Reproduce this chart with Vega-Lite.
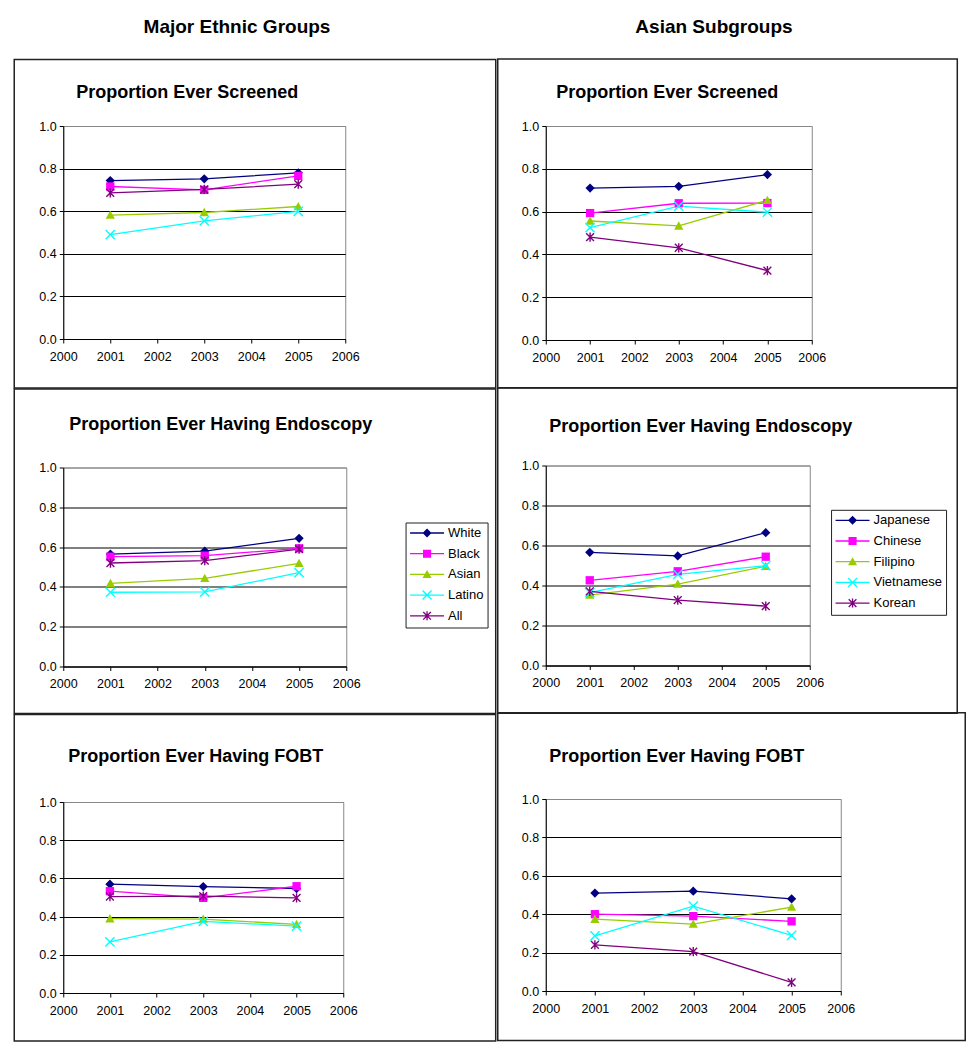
{
  "$schema": "https://vega.github.io/schema/vega-lite/v6.json",
  "padding": {"left": 12.25, "top": 17, "right": 4, "bottom": 4},
  "background": "white",
  "config": {
    "font": "Liberation Sans",
    "view": {"stroke": "#888888", "strokeWidth": 1},
    "axis": {"domainColor": "black", "tickColor": "black", "labelColor": "black", "labelFont": "Liberation Sans", "labelFontSize": 12.5, "gridColor": "black", "gridWidth": 1, "domainWidth": 1, "tickWidth": 1},
    "title": {"font": "Liberation Sans", "color": "black", "fontWeight": "bold"},
    "legend": {"labelFont": "Liberation Sans", "labelColor": "black", "labelFontSize": 13}
  },
  "datasets": {
    "major_screened": [
      {"g": "White", "year": 2001, "v": 0.744}, {"g": "White", "year": 2003, "v": 0.752}, {"g": "White", "year": 2005, "v": 0.780},
      {"g": "Black", "year": 2001, "v": 0.716}, {"g": "Black", "year": 2003, "v": 0.700}, {"g": "Black", "year": 2005, "v": 0.766},
      {"g": "Asian", "year": 2001, "v": 0.582}, {"g": "Asian", "year": 2003, "v": 0.594}, {"g": "Asian", "year": 2005, "v": 0.622},
      {"g": "Latino", "year": 2001, "v": 0.490}, {"g": "Latino", "year": 2003, "v": 0.555}, {"g": "Latino", "year": 2005, "v": 0.599},
      {"g": "All", "year": 2001, "v": 0.686}, {"g": "All", "year": 2003, "v": 0.702}, {"g": "All", "year": 2005, "v": 0.727}
    ],
    "asian_screened": [
      {"g": "Japanese", "year": 2001, "v": 0.710}, {"g": "Japanese", "year": 2003, "v": 0.718}, {"g": "Japanese", "year": 2005, "v": 0.773},
      {"g": "Chinese", "year": 2001, "v": 0.593}, {"g": "Chinese", "year": 2003, "v": 0.639}, {"g": "Chinese", "year": 2005, "v": 0.640},
      {"g": "Filipino", "year": 2001, "v": 0.556}, {"g": "Filipino", "year": 2003, "v": 0.533}, {"g": "Filipino", "year": 2005, "v": 0.653},
      {"g": "Vietnamese", "year": 2001, "v": 0.525}, {"g": "Vietnamese", "year": 2003, "v": 0.626}, {"g": "Vietnamese", "year": 2005, "v": 0.597},
      {"g": "Korean", "year": 2001, "v": 0.481}, {"g": "Korean", "year": 2003, "v": 0.431}, {"g": "Korean", "year": 2005, "v": 0.324}
    ],
    "major_endo": [
      {"g": "White", "year": 2001, "v": 0.565}, {"g": "White", "year": 2003, "v": 0.580}, {"g": "White", "year": 2005, "v": 0.644},
      {"g": "Black", "year": 2001, "v": 0.552}, {"g": "Black", "year": 2003, "v": 0.557}, {"g": "Black", "year": 2005, "v": 0.594},
      {"g": "Asian", "year": 2001, "v": 0.418}, {"g": "Asian", "year": 2003, "v": 0.443}, {"g": "Asian", "year": 2005, "v": 0.518},
      {"g": "Latino", "year": 2001, "v": 0.373}, {"g": "Latino", "year": 2003, "v": 0.375}, {"g": "Latino", "year": 2005, "v": 0.472},
      {"g": "All", "year": 2001, "v": 0.520}, {"g": "All", "year": 2003, "v": 0.532}, {"g": "All", "year": 2005, "v": 0.590}
    ],
    "asian_endo": [
      {"g": "Japanese", "year": 2001, "v": 0.566}, {"g": "Japanese", "year": 2003, "v": 0.548}, {"g": "Japanese", "year": 2005, "v": 0.664},
      {"g": "Chinese", "year": 2001, "v": 0.426}, {"g": "Chinese", "year": 2003, "v": 0.471}, {"g": "Chinese", "year": 2005, "v": 0.544},
      {"g": "Filipino", "year": 2001, "v": 0.352}, {"g": "Filipino", "year": 2003, "v": 0.407}, {"g": "Filipino", "year": 2005, "v": 0.496},
      {"g": "Vietnamese", "year": 2001, "v": 0.364}, {"g": "Vietnamese", "year": 2003, "v": 0.456}, {"g": "Vietnamese", "year": 2005, "v": 0.499},
      {"g": "Korean", "year": 2001, "v": 0.371}, {"g": "Korean", "year": 2003, "v": 0.327}, {"g": "Korean", "year": 2005, "v": 0.297}
    ],
    "major_fobt": [
      {"g": "White", "year": 2001, "v": 0.570}, {"g": "White", "year": 2003, "v": 0.557}, {"g": "White", "year": 2005, "v": 0.547},
      {"g": "Black", "year": 2001, "v": 0.533}, {"g": "Black", "year": 2003, "v": 0.498}, {"g": "Black", "year": 2005, "v": 0.559},
      {"g": "Asian", "year": 2001, "v": 0.389}, {"g": "Asian", "year": 2003, "v": 0.387}, {"g": "Asian", "year": 2005, "v": 0.359},
      {"g": "Latino", "year": 2001, "v": 0.268}, {"g": "Latino", "year": 2003, "v": 0.375}, {"g": "Latino", "year": 2005, "v": 0.350},
      {"g": "All", "year": 2001, "v": 0.505}, {"g": "All", "year": 2003, "v": 0.507}, {"g": "All", "year": 2005, "v": 0.498}
    ],
    "asian_fobt": [
      {"g": "Japanese", "year": 2001, "v": 0.510}, {"g": "Japanese", "year": 2003, "v": 0.520}, {"g": "Japanese", "year": 2005, "v": 0.480},
      {"g": "Chinese", "year": 2001, "v": 0.400}, {"g": "Chinese", "year": 2003, "v": 0.390}, {"g": "Chinese", "year": 2005, "v": 0.363},
      {"g": "Filipino", "year": 2001, "v": 0.374}, {"g": "Filipino", "year": 2003, "v": 0.348}, {"g": "Filipino", "year": 2005, "v": 0.437},
      {"g": "Vietnamese", "year": 2001, "v": 0.287}, {"g": "Vietnamese", "year": 2003, "v": 0.442}, {"g": "Vietnamese", "year": 2005, "v": 0.290},
      {"g": "Korean", "year": 2001, "v": 0.240}, {"g": "Korean", "year": 2003, "v": 0.205}, {"g": "Korean", "year": 2005, "v": 0.045}
    ]
  },
  "spacing": -1.5,
  "hconcat": [
    {
      "title": {"text": "Major Ethnic Groups", "anchor": "middle", "frame": "bounds", "dx": -18, "offset": 6, "baseline": "alphabetic", "fontSize": 19},
      "spacing": -2.5,
      "vconcat": [
        {
          "width": 282, "height": 213,
          "title": {"text": "Proportion Ever Screened", "anchor": "start", "frame": "bounds", "dx": 62.75, "offset": -57.25, "baseline": "alphabetic", "fontSize": 18},
          "data": {"name": "major_screened"},
          "resolve": {"scale": {"color": "independent", "shape": "independent"}},
          "layer": [
            {"data": {"values": [{}]}, "mark": {"type": "rect", "fill": "transparent", "stroke": "#222222", "strokeWidth": 1.5},
             "encoding": {
               "x": {"datum": 1998.957, "type": "quantitative", "scale": {"domain": [2000, 2006], "zero": false, "nice": false}, "axis": {"title": null, "values": [2000, 2001, 2002, 2003, 2004, 2005, 2006], "tickCount": 7, "format": "d", "grid": false, "labelPadding": 7, "tickSize": 4, "labelFlush": false, "labelOverlap": false}},
               "x2": {"datum": 2009.202},
               "y": {"datum": 1.3127, "type": "quantitative", "scale": {"domain": [0, 1], "zero": false, "nice": false}, "axis": {"title": null, "values": [0, 0.2, 0.4, 0.6, 0.8, 1], "tickCount": 6, "format": ".1f", "grid": true, "gridColor": {"condition": {"test": "datum.value === 1", "value": "#888888"}, "value": "black"}, "labelPadding": 3, "tickSize": 4, "labelOverlap": false}},
               "y2": {"datum": -0.2297}}},
            {"mark": {"type": "line", "strokeWidth": 1.3},
             "encoding": {
               "x": {"field": "year", "type": "quantitative"},
               "y": {"field": "v", "type": "quantitative"},
               "color": {"field": "g", "type": "nominal", "scale": {"domain": ["White", "Black", "Asian", "Latino", "All"], "range": ["#000080", "#FF00FF", "#99CC00", "#00FFFF", "#800080"]}, "legend": null}}},
            {"mark": {"type": "point", "filled": true, "opacity": 1, "size": 85},
             "encoding": {
               "x": {"field": "year", "type": "quantitative"},
               "y": {"field": "v", "type": "quantitative"},
               "color": {"field": "g", "type": "nominal", "scale": {"domain": ["White", "Black", "Asian", "Latino", "All"], "range": ["#000080", "#FF00FF", "#99CC00", "#00FFFF", "#800080"]}, "legend": null},
               "shape": {"field": "g", "type": "nominal", "scale": {"domain": ["White", "Black", "Asian", "Latino", "All"], "range": ["M0,-1L1,0L0,1L-1,0Z", "M-0.9,-0.9L0.9,-0.9L0.9,0.9L-0.9,0.9Z", "M0,-1L1,0.8L-1,0.8Z", "M-0.894,-1.106L1.106,0.894L0.894,1.106L-1.106,-0.894Z M1.106,-0.894L-0.894,1.106L-1.106,0.894L0.894,-1.106Z", "M-0.744,-0.956L0.956,0.744L0.744,0.956L-0.956,-0.744Z M0.956,-0.744L-0.744,0.956L-0.956,0.744L0.744,-0.956Z M0.15,-1L0.15,1L-0.15,1L-0.15,-1Z"]}, "legend": null}}}
          ]
        },
        {
          "width": 283, "height": 199,
          "title": {"text": "Proportion Ever Having Endoscopy", "anchor": "start", "frame": "bounds", "dx": 55.75, "offset": -60.25, "baseline": "alphabetic", "fontSize": 18},
          "data": {"name": "major_endo"},
          "resolve": {"scale": {"color": "independent", "shape": "independent"}},
          "layer": [
            {"data": {"values": [{}]}, "mark": {"type": "rect", "fill": "transparent", "stroke": "#222222", "strokeWidth": 1.5},
             "encoding": {
               "x": {"datum": 1998.961, "type": "quantitative", "scale": {"domain": [2000, 2006], "zero": false, "nice": false}, "axis": {"title": null, "values": [2000, 2001, 2002, 2003, 2004, 2005, 2006], "tickCount": 7, "format": "d", "grid": false, "labelPadding": 7, "tickSize": 4, "labelFlush": false, "labelOverlap": false}},
               "x2": {"datum": 2009.169},
               "y": {"datum": 1.3949, "type": "quantitative", "scale": {"domain": [0, 1], "zero": false, "nice": false}, "axis": {"title": null, "values": [0, 0.2, 0.4, 0.6, 0.8, 1], "tickCount": 6, "format": ".1f", "grid": true, "gridColor": {"condition": {"test": "datum.value === 1", "value": "#888888"}, "value": "black"}, "labelPadding": 3, "tickSize": 4, "labelOverlap": false}},
               "y2": {"datum": -0.2358}}},
            {"mark": {"type": "line", "strokeWidth": 1.3},
             "encoding": {
               "x": {"field": "year", "type": "quantitative"},
               "y": {"field": "v", "type": "quantitative"},
               "color": {"field": "g", "type": "nominal", "scale": {"domain": ["White", "Black", "Asian", "Latino", "All"], "range": ["#000080", "#FF00FF", "#99CC00", "#00FFFF", "#800080"]}, "legend": null}}},
            {"mark": {"type": "point", "filled": true, "opacity": 1, "size": 85},
             "encoding": {
               "x": {"field": "year", "type": "quantitative"},
               "y": {"field": "v", "type": "quantitative"},
               "color": {"field": "g", "type": "nominal", "scale": {"domain": ["White", "Black", "Asian", "Latino", "All"], "range": ["#000080", "#FF00FF", "#99CC00", "#00FFFF", "#800080"]}, "legend": null},
               "shape": {"field": "g", "type": "nominal", "scale": {"domain": ["White", "Black", "Asian", "Latino", "All"], "range": ["M0,-1L1,0L0,1L-1,0Z", "M-0.9,-0.9L0.9,-0.9L0.9,0.9L-0.9,0.9Z", "M0,-1L1,0.8L-1,0.8Z", "M-0.894,-1.106L1.106,0.894L0.894,1.106L-1.106,-0.894Z M1.106,-0.894L-0.894,1.106L-1.106,0.894L0.894,-1.106Z", "M-0.744,-0.956L0.956,0.744L0.744,0.956L-0.956,-0.744Z M0.956,-0.744L-0.744,0.956L-0.956,0.744L0.744,-0.956Z M0.15,-1L0.15,1L-0.15,1L-0.15,-1Z"]}, "legend": null}}},
            {"transform": [{"filter": "false"}],
             "mark": {"type": "point", "filled": true, "opacity": 1, "size": 81},
             "encoding": {
               "x": {"field": "year", "type": "quantitative"},
               "y": {"field": "v", "type": "quantitative"},
               "color": {"field": "g", "type": "nominal", "scale": {"domain": ["White", "Black", "Asian", "Latino", "All"], "range": ["#000080", "#FF00FF", "#99CC00", "#00FFFF", "#800080"]},
                 "legend": {"title": null, "orient": "none", "legendX": 342.3, "legendY": 55, "strokeColor": "#222222", "padding": 4, "symbolSize": 81, "rowPadding": 6.7, "symbolOffset": 11, "labelOffset": 14.5}},
               "shape": {"field": "g", "type": "nominal", "scale": {"domain": ["White", "Black", "Asian", "Latino", "All"], "range": [
                 "M-3.78,-0.14L3.78,-0.14L3.78,0.14L-3.78,0.14Z M0,-1L1,0L0,1L-1,0Z",
                 "M-3.78,-0.14L3.78,-0.14L3.78,0.14L-3.78,0.14Z M-0.9,-0.9L0.9,-0.9L0.9,0.9L-0.9,0.9Z",
                 "M-3.78,-0.14L3.78,-0.14L3.78,0.14L-3.78,0.14Z M0,-1L1,0.8L-1,0.8Z",
                 "M-3.78,-0.14L3.78,-0.14L3.78,0.14L-3.78,0.14Z M-0.894,-1.106L1.106,0.894L0.894,1.106L-1.106,-0.894Z M1.106,-0.894L-0.894,1.106L-1.106,0.894L0.894,-1.106Z",
                 "M-3.78,-0.14L3.78,-0.14L3.78,0.14L-3.78,0.14Z M-0.744,-0.956L0.956,0.744L0.744,0.956L-0.956,-0.744Z M0.956,-0.744L-0.744,0.956L-0.956,0.744L0.744,-0.956Z M0.15,-1L0.15,1L-0.15,1L-0.15,-1Z"]},
                 "legend": {"title": null, "orient": "none", "legendX": 342.3, "legendY": 55, "strokeColor": "#222222", "padding": 4, "symbolSize": 81, "rowPadding": 6.7, "symbolOffset": 11, "labelOffset": 14.5}}}}
          ]
        },
        {
          "width": 280, "height": 191,
          "title": {"text": "Proportion Ever Having FOBT", "anchor": "start", "frame": "bounds", "dx": 54.75, "offset": -66.25, "baseline": "alphabetic", "fontSize": 18},
          "data": {"name": "major_fobt"},
          "resolve": {"scale": {"color": "independent", "shape": "independent"}},
          "layer": [
            {"data": {"values": [{}]}, "mark": {"type": "rect", "fill": "transparent", "stroke": "#222222", "strokeWidth": 1.5},
             "encoding": {
               "x": {"datum": 1998.950, "type": "quantitative", "scale": {"domain": [2000, 2006], "zero": false, "nice": false}, "axis": {"title": null, "values": [2000, 2001, 2002, 2003, 2004, 2005, 2006], "tickCount": 7, "format": "d", "grid": false, "labelPadding": 7, "tickSize": 4, "labelFlush": false, "labelOverlap": false}},
               "x2": {"datum": 2009.267},
               "y": {"datum": 1.4584, "type": "quantitative", "scale": {"domain": [0, 1], "zero": false, "nice": false}, "axis": {"title": null, "values": [0, 0.2, 0.4, 0.6, 0.8, 1], "tickCount": 6, "format": ".1f", "grid": true, "gridColor": {"condition": {"test": "datum.value === 1", "value": "#888888"}, "value": "black"}, "labelPadding": 3, "tickSize": 4, "labelOverlap": false}},
               "y2": {"datum": -0.2509}}},
            {"mark": {"type": "line", "strokeWidth": 1.3},
             "encoding": {
               "x": {"field": "year", "type": "quantitative"},
               "y": {"field": "v", "type": "quantitative"},
               "color": {"field": "g", "type": "nominal", "scale": {"domain": ["White", "Black", "Asian", "Latino", "All"], "range": ["#000080", "#FF00FF", "#99CC00", "#00FFFF", "#800080"]}, "legend": null}}},
            {"mark": {"type": "point", "filled": true, "opacity": 1, "size": 85},
             "encoding": {
               "x": {"field": "year", "type": "quantitative"},
               "y": {"field": "v", "type": "quantitative"},
               "color": {"field": "g", "type": "nominal", "scale": {"domain": ["White", "Black", "Asian", "Latino", "All"], "range": ["#000080", "#FF00FF", "#99CC00", "#00FFFF", "#800080"]}, "legend": null},
               "shape": {"field": "g", "type": "nominal", "scale": {"domain": ["White", "Black", "Asian", "Latino", "All"], "range": ["M0,-1L1,0L0,1L-1,0Z", "M-0.9,-0.9L0.9,-0.9L0.9,0.9L-0.9,0.9Z", "M0,-1L1,0.8L-1,0.8Z", "M-0.894,-1.106L1.106,0.894L0.894,1.106L-1.106,-0.894Z M1.106,-0.894L-0.894,1.106L-1.106,0.894L0.894,-1.106Z", "M-0.744,-0.956L0.956,0.744L0.744,0.956L-0.956,-0.744Z M0.956,-0.744L-0.744,0.956L-0.956,0.744L0.744,-0.956Z M0.15,-1L0.15,1L-0.15,1L-0.15,-1Z"]}, "legend": null}}}
          ]
        }
      ]
    },
    {
      "title": {"text": "Asian Subgroups", "anchor": "middle", "frame": "bounds", "dx": -17.5, "offset": 6, "baseline": "alphabetic", "fontSize": 19},
      "spacing": -4.5,
      "vconcat": [
        {
          "width": 266, "height": 214,
          "title": {"text": "Proportion Ever Screened", "anchor": "start", "frame": "bounds", "dx": 59.25, "offset": -57.75, "baseline": "alphabetic", "fontSize": 18},
          "data": {"name": "asian_screened"},
          "resolve": {"scale": {"color": "independent", "shape": "independent"}},
          "layer": [
            {"data": {"values": [{}]}, "mark": {"type": "rect", "fill": "transparent", "stroke": "#222222", "strokeWidth": 1.5},
             "encoding": {
               "x": {"datum": 1998.917, "type": "quantitative", "scale": {"domain": [2000, 2006], "zero": false, "nice": false}, "axis": {"title": null, "values": [2000, 2001, 2002, 2003, 2004, 2005, 2006], "tickCount": 7, "format": "d", "grid": false, "labelPadding": 7, "tickSize": 4, "labelFlush": false, "labelOverlap": false}},
               "x2": {"datum": 2009.283},
               "y": {"datum": 1.3131, "type": "quantitative", "scale": {"domain": [0, 1], "zero": false, "nice": false}, "axis": {"title": null, "values": [0, 0.2, 0.4, 0.6, 0.8, 1], "tickCount": 6, "format": ".1f", "grid": true, "gridColor": {"condition": {"test": "datum.value === 1", "value": "#888888"}, "value": "black"}, "labelPadding": 3, "tickSize": 4, "labelOverlap": false}},
               "y2": {"datum": -0.2243}}},
            {"mark": {"type": "line", "strokeWidth": 1.3},
             "encoding": {
               "x": {"field": "year", "type": "quantitative"},
               "y": {"field": "v", "type": "quantitative"},
               "color": {"field": "g", "type": "nominal", "scale": {"domain": ["Japanese", "Chinese", "Filipino", "Vietnamese", "Korean"], "range": ["#000080", "#FF00FF", "#99CC00", "#00FFFF", "#800080"]}, "legend": null}}},
            {"mark": {"type": "point", "filled": true, "opacity": 1, "size": 85},
             "encoding": {
               "x": {"field": "year", "type": "quantitative"},
               "y": {"field": "v", "type": "quantitative"},
               "color": {"field": "g", "type": "nominal", "scale": {"domain": ["Japanese", "Chinese", "Filipino", "Vietnamese", "Korean"], "range": ["#000080", "#FF00FF", "#99CC00", "#00FFFF", "#800080"]}, "legend": null},
               "shape": {"field": "g", "type": "nominal", "scale": {"domain": ["Japanese", "Chinese", "Filipino", "Vietnamese", "Korean"], "range": ["M0,-1L1,0L0,1L-1,0Z", "M-0.9,-0.9L0.9,-0.9L0.9,0.9L-0.9,0.9Z", "M0,-1L1,0.8L-1,0.8Z", "M-0.894,-1.106L1.106,0.894L0.894,1.106L-1.106,-0.894Z M1.106,-0.894L-0.894,1.106L-1.106,0.894L0.894,-1.106Z", "M-0.744,-0.956L0.956,0.744L0.744,0.956L-0.956,-0.744Z M0.956,-0.744L-0.744,0.956L-0.956,0.744L0.744,-0.956Z M0.15,-1L0.15,1L-0.15,1L-0.15,-1Z"]}, "legend": null}}}
          ]
        },
        {
          "width": 264, "height": 200,
          "title": {"text": "Proportion Ever Having Endoscopy", "anchor": "start", "frame": "bounds", "dx": 52.25, "offset": -63.25, "baseline": "alphabetic", "fontSize": 18},
          "data": {"name": "asian_endo"},
          "resolve": {"scale": {"color": "independent", "shape": "independent"}},
          "layer": [
            {"data": {"values": [{}]}, "mark": {"type": "rect", "fill": "transparent", "stroke": "#222222", "strokeWidth": 1.5},
             "encoding": {
               "x": {"datum": 1998.909, "type": "quantitative", "scale": {"domain": [2000, 2006], "zero": false, "nice": false}, "axis": {"title": null, "values": [2000, 2001, 2002, 2003, 2004, 2005, 2006], "tickCount": 7, "format": "d", "grid": false, "labelPadding": 7, "tickSize": 4, "labelFlush": false, "labelOverlap": false}},
               "x2": {"datum": 2009.352},
               "y": {"datum": 1.3893, "type": "quantitative", "scale": {"domain": [0, 1], "zero": false, "nice": false}, "axis": {"title": null, "values": [0, 0.2, 0.4, 0.6, 0.8, 1], "tickCount": 6, "format": ".1f", "grid": true, "gridColor": {"condition": {"test": "datum.value === 1", "value": "#888888"}, "value": "black"}, "labelPadding": 3, "tickSize": 4, "labelOverlap": false}},
               "y2": {"datum": -0.239}}},
            {"mark": {"type": "line", "strokeWidth": 1.3},
             "encoding": {
               "x": {"field": "year", "type": "quantitative"},
               "y": {"field": "v", "type": "quantitative"},
               "color": {"field": "g", "type": "nominal", "scale": {"domain": ["Japanese", "Chinese", "Filipino", "Vietnamese", "Korean"], "range": ["#000080", "#FF00FF", "#99CC00", "#00FFFF", "#800080"]}, "legend": null}}},
            {"mark": {"type": "point", "filled": true, "opacity": 1, "size": 85},
             "encoding": {
               "x": {"field": "year", "type": "quantitative"},
               "y": {"field": "v", "type": "quantitative"},
               "color": {"field": "g", "type": "nominal", "scale": {"domain": ["Japanese", "Chinese", "Filipino", "Vietnamese", "Korean"], "range": ["#000080", "#FF00FF", "#99CC00", "#00FFFF", "#800080"]}, "legend": null},
               "shape": {"field": "g", "type": "nominal", "scale": {"domain": ["Japanese", "Chinese", "Filipino", "Vietnamese", "Korean"], "range": ["M0,-1L1,0L0,1L-1,0Z", "M-0.9,-0.9L0.9,-0.9L0.9,0.9L-0.9,0.9Z", "M0,-1L1,0.8L-1,0.8Z", "M-0.894,-1.106L1.106,0.894L0.894,1.106L-1.106,-0.894Z M1.106,-0.894L-0.894,1.106L-1.106,0.894L0.894,-1.106Z", "M-0.744,-0.956L0.956,0.744L0.744,0.956L-0.956,-0.744Z M0.956,-0.744L-0.744,0.956L-0.956,0.744L0.744,-0.956Z M0.15,-1L0.15,1L-0.15,1L-0.15,-1Z"]}, "legend": null}}},
            {"transform": [{"filter": "false"}],
             "mark": {"type": "point", "filled": true, "opacity": 1, "size": 81},
             "encoding": {
               "x": {"field": "year", "type": "quantitative"},
               "y": {"field": "v", "type": "quantitative"},
               "color": {"field": "g", "type": "nominal", "scale": {"domain": ["Japanese", "Chinese", "Filipino", "Vietnamese", "Korean"], "range": ["#000080", "#FF00FF", "#99CC00", "#00FFFF", "#800080"]},
                 "legend": {"title": null, "orient": "none", "legendX": 285.3, "legendY": 44.3, "strokeColor": "#222222", "padding": 4, "symbolSize": 81, "rowPadding": 6.7, "symbolOffset": 11, "labelOffset": 14.5}},
               "shape": {"field": "g", "type": "nominal", "scale": {"domain": ["Japanese", "Chinese", "Filipino", "Vietnamese", "Korean"], "range": [
                 "M-3.78,-0.14L3.78,-0.14L3.78,0.14L-3.78,0.14Z M0,-1L1,0L0,1L-1,0Z",
                 "M-3.78,-0.14L3.78,-0.14L3.78,0.14L-3.78,0.14Z M-0.9,-0.9L0.9,-0.9L0.9,0.9L-0.9,0.9Z",
                 "M-3.78,-0.14L3.78,-0.14L3.78,0.14L-3.78,0.14Z M0,-1L1,0.8L-1,0.8Z",
                 "M-3.78,-0.14L3.78,-0.14L3.78,0.14L-3.78,0.14Z M-0.894,-1.106L1.106,0.894L0.894,1.106L-1.106,-0.894Z M1.106,-0.894L-0.894,1.106L-1.106,0.894L0.894,-1.106Z",
                 "M-3.78,-0.14L3.78,-0.14L3.78,0.14L-3.78,0.14Z M-0.744,-0.956L0.956,0.744L0.744,0.956L-0.956,-0.744Z M0.956,-0.744L-0.744,0.956L-0.956,0.744L0.744,-0.956Z M0.15,-1L0.15,1L-0.15,1L-0.15,-1Z"]},
                 "legend": {"title": null, "orient": "none", "legendX": 285.3, "legendY": 44.3, "strokeColor": "#222222", "padding": 4, "symbolSize": 81, "rowPadding": 6.7, "symbolOffset": 11, "labelOffset": 14.5}}}}
          ]
        },
        {
          "width": 295, "height": 192,
          "title": {"text": "Proportion Ever Having FOBT", "anchor": "start", "frame": "bounds", "dx": 52.25, "offset": -68.25, "baseline": "alphabetic", "fontSize": 18},
          "data": {"name": "asian_fobt"},
          "resolve": {"scale": {"color": "independent", "shape": "independent"}},
          "layer": [
            {"data": {"values": [{}]}, "mark": {"type": "rect", "fill": "transparent", "stroke": "#222222", "strokeWidth": 1.5},
             "encoding": {
               "x": {"datum": 1999.024, "type": "quantitative", "scale": {"domain": [2000, 2006], "zero": false, "nice": false}, "axis": {"title": null, "values": [2000, 2001, 2002, 2003, 2004, 2005, 2006], "tickCount": 7, "format": "d", "grid": false, "labelPadding": 7, "tickSize": 4, "labelFlush": false, "labelOverlap": false}},
               "x2": {"datum": 2008.532},
               "y": {"datum": 1.4486, "type": "quantitative", "scale": {"domain": [0, 1], "zero": false, "nice": false}, "axis": {"title": null, "values": [0, 0.2, 0.4, 0.6, 0.8, 1], "tickCount": 6, "format": ".1f", "grid": true, "gridColor": {"condition": {"test": "datum.value === 1", "value": "#888888"}, "value": "black"}, "labelPadding": 3, "tickSize": 4, "labelOverlap": false}},
               "y2": {"datum": -0.2572}}},
            {"mark": {"type": "line", "strokeWidth": 1.3},
             "encoding": {
               "x": {"field": "year", "type": "quantitative"},
               "y": {"field": "v", "type": "quantitative"},
               "color": {"field": "g", "type": "nominal", "scale": {"domain": ["Japanese", "Chinese", "Filipino", "Vietnamese", "Korean"], "range": ["#000080", "#FF00FF", "#99CC00", "#00FFFF", "#800080"]}, "legend": null}}},
            {"mark": {"type": "point", "filled": true, "opacity": 1, "size": 85},
             "encoding": {
               "x": {"field": "year", "type": "quantitative"},
               "y": {"field": "v", "type": "quantitative"},
               "color": {"field": "g", "type": "nominal", "scale": {"domain": ["Japanese", "Chinese", "Filipino", "Vietnamese", "Korean"], "range": ["#000080", "#FF00FF", "#99CC00", "#00FFFF", "#800080"]}, "legend": null},
               "shape": {"field": "g", "type": "nominal", "scale": {"domain": ["Japanese", "Chinese", "Filipino", "Vietnamese", "Korean"], "range": ["M0,-1L1,0L0,1L-1,0Z", "M-0.9,-0.9L0.9,-0.9L0.9,0.9L-0.9,0.9Z", "M0,-1L1,0.8L-1,0.8Z", "M-0.894,-1.106L1.106,0.894L0.894,1.106L-1.106,-0.894Z M1.106,-0.894L-0.894,1.106L-1.106,0.894L0.894,-1.106Z", "M-0.744,-0.956L0.956,0.744L0.744,0.956L-0.956,-0.744Z M0.956,-0.744L-0.744,0.956L-0.956,0.744L0.744,-0.956Z M0.15,-1L0.15,1L-0.15,1L-0.15,-1Z"]}, "legend": null}}}
          ]
        }
      ]
    }
  ]
}
